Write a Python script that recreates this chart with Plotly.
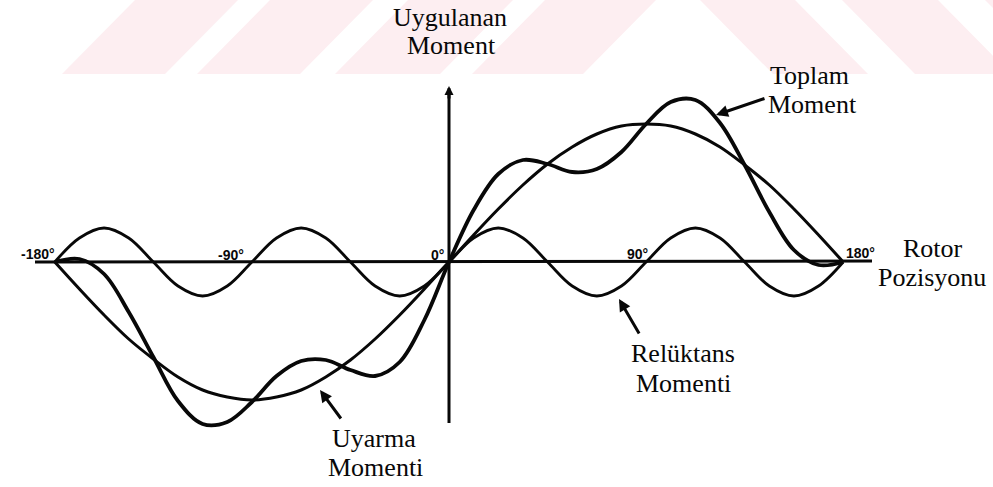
import plotly.graph_objects as go

# Rotor position (electrical degrees)
rotor_deg = [-180, -168.75, -157.5, -146.25, -135, -123.75, -112.5, -101.25, -90,
             -78.75, -67.5, -56.25, -45, -33.75, -22.5, -11.25, 0,
             11.25, 22.5, 33.75, 45, 56.25, 67.5, 78.75, 90,
             101.25, 112.5, 123.75, 135, 146.25, 157.5, 168.75, 180]

# Excitation torque (Uyarma Momenti)
uyarma = [0, -27, -53, -77, -97, -115, -128, -135, -138,
          -135, -128, -115, -98, -77, -53, -27, 0,
          27, 53, 77, 98, 115, 128, 136, 138,
          136, 128, 115, 97, 77, 53, 27, 0]

# Reluctance torque (Relüktans Momenti)
reluktans = [0, 24, 34, 24, 0, -24, -34, -24, 0,
             24, 34, 24, 0, -24, -34, -24, 0,
             24, 34, 24, 0, -24, -34, -24, 0,
             24, 34, 24, 0, -24, -34, -24, 0]

# Resultant torque (Toplam Moment)
toplam = [0, 3, -12, -50, -95, -139, -162, -160, -140,
          -114, -99, -98, -108, -114, -100, -58, 0,
          52, 88, 102, 98, 90, 93, 110, 138,
          160, 162, 139, 97, 50, 12, -3, 0]

tick_vals = [-180, -90, 0, 90, 180]
tick_text = ["-180°", "-90°", "0°", "90°", "180°"]

W, H = 993, 487
X0_PX, DEG_PX = 449, 2.19     # x pixel of 0°, pixels per degree
Y0_PX = 262                   # y pixel of the zero line
INK = "#080808"
PINK = "#fdeef1"
SERIF = "Liberation Serif"
TICKFONT = "Liberation Sans"


def px(x):
    return x / W


def py(y):
    return 1 - y / H


fig = go.Figure()

for vals, width in [(reluktans, 2.8), (uyarma, 3.0), (toplam, 3.8)]:
    fig.add_trace(go.Scatter(
        x=rotor_deg, y=vals, mode="lines",
        line=dict(color=INK, width=width, shape="spline", smoothing=1.0),
        hoverinfo="skip", showlegend=False,
    ))

shapes = []

# faint diagonal band decoration along the top edge
band_bottom = 74
slant = 73
for left, right in [(62, 165), (197, 300), (335, 440), (472, 583)]:
    path = (f"M {px(left)},{py(band_bottom)} L {px(right)},{py(band_bottom)} "
            f"L {px(right + slant)},{py(0)} L {px(left + slant)},{py(0)} Z")
    shapes.append(dict(type="path", path=path, xref="paper", yref="paper",
                       fillcolor=PINK, line=dict(width=0), layer="below"))
for left, right in [(700, 795), (842, 938), (985, 1080)]:
    path = (f"M {px(left)},{py(0)} L {px(right)},{py(0)} "
            f"L {px(right + slant)},{py(band_bottom)} L {px(left + slant)},{py(band_bottom)} Z")
    shapes.append(dict(type="path", path=path, xref="paper", yref="paper",
                       fillcolor=PINK, line=dict(width=0), layer="below"))

# horizontal rotor-position axis
shapes.append(dict(type="line", xref="paper", yref="paper",
                   x0=px(35), x1=px(872), y0=py(262), y1=py(261),
                   line=dict(color=INK, width=3)))
# vertical torque axis (lower part, the arrow supplies the rest)
shapes.append(dict(type="line", xref="x", yref="paper",
                   x0=0, x1=0, y0=py(423), y1=py(95),
                   line=dict(color=INK, width=3)))

annotations = []

# arrow head of the torque axis
annotations.append(dict(x=px(449), y=py(86), xref="paper", yref="paper",
                        ax=0, ay=14, showarrow=True, arrowhead=2, arrowsize=0.6,
                        arrowwidth=3, arrowcolor=INK, text=""))

# tick labels sitting on the axis
tick_pos = {-180: (38, 254), -90: (231, 255), 0: (437, 255), 90: (637, 254), 180: (860, 253)}
for v, t in zip(tick_vals, tick_text):
    cx, cy = tick_pos[v]
    annotations.append(dict(x=px(cx), y=py(cy), xref="paper", yref="paper",
                            text=f"<b>{t}</b>", showarrow=False,
                            font=dict(family=TICKFONT, size=14, color=INK),
                            xanchor="center", yanchor="middle"))

# captions
captions = [
    ("Uygulanan", 450, 18), ("Moment", 451, 46),
    ("Toplam", 809, 76), ("Moment", 812, 104),
    ("Rotor", 933, 248), ("Pozisyonu", 932, 277),
    ("Relüktans", 683, 353), ("Momenti", 683, 383),
    ("Uyarma", 374, 438), ("Momenti", 375, 467),
]
for text, cx, cy in captions:
    annotations.append(dict(x=px(cx), y=py(cy), xref="paper", yref="paper",
                            text=text, showarrow=False,
                            font=dict(family=SERIF, size=26, color=INK),
                            xanchor="center", yanchor="middle"))

# pointer arrows from captions to curves (head, tail in pixels)
pointers = [((716, 115), (766, 98)), ((619, 299), (640, 335)), ((320, 390), (342, 420))]
for (hx, hy), (tx, ty) in pointers:
    annotations.append(dict(x=px(hx), y=py(hy), xref="paper", yref="paper",
                            ax=tx - hx, ay=ty - hy, showarrow=True, arrowhead=2,
                            arrowsize=0.8, arrowwidth=3, arrowcolor=INK, text=""))

fig.update_layout(
    width=W, height=H,
    margin=dict(l=0, r=0, t=0, b=0),
    paper_bgcolor="white", plot_bgcolor="rgba(0,0,0,0)",
    xaxis=dict(range=[(0 - X0_PX) / DEG_PX, (W - X0_PX) / DEG_PX],
               visible=False, fixedrange=True),
    yaxis=dict(range=[Y0_PX - H, Y0_PX], visible=False, fixedrange=True),
    shapes=shapes, annotations=annotations,
    showlegend=False,
)

fig.write_html("out.html")
